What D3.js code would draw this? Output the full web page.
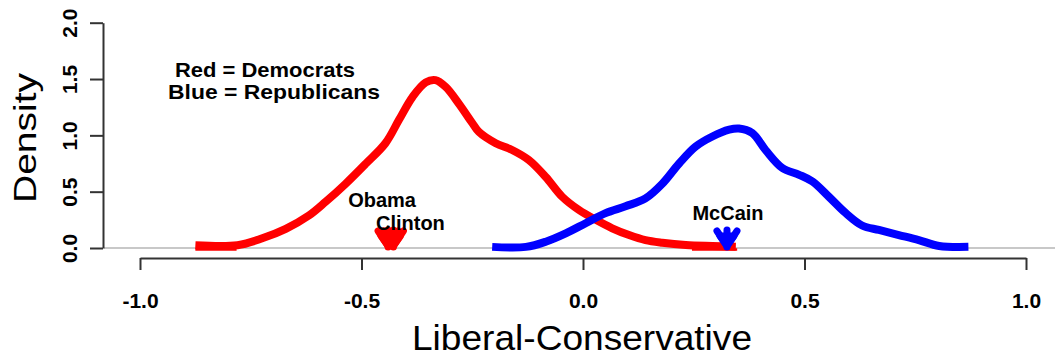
<!DOCTYPE html>
<html>
<head>
<meta charset="utf-8">
<script src="https://cdn.jsdelivr.net/npm/d3@7"></script>
<style>
  html, body { margin: 0; padding: 0; background: #fff; }
  svg { display: block; }
  text { font-family: "Liberation Sans", Arial, Helvetica, sans-serif; }
</style>
</head>
<body>
<svg id="chart" width="1055" height="360"></svg>
<script>
// ---- data ----
const xTicks = [-1.0, -0.5, 0.0, 0.5, 1.0];
const yTicks = [0.0, 0.5, 1.0, 1.5, 2.0];

const demX = [-0.875, -0.78, -0.724, -0.671, -0.618, -0.581, -0.536, -0.49, -0.446, -0.415, -0.385, -0.355, -0.333, -0.31, -0.28, -0.25, -0.235, -0.197, -0.16, -0.122, -0.084, -0.047, -0.009, 0.029, 0.066, 0.104, 0.141, 0.179, 0.232, 0.292, 0.345];
const demY = [0.025, 0.025, 0.086, 0.17, 0.29, 0.41, 0.57, 0.75, 0.93, 1.14, 1.34, 1.47, 1.49, 1.43, 1.28, 1.11, 1.03, 0.93, 0.87, 0.78, 0.63, 0.455, 0.337, 0.25, 0.175, 0.115, 0.07, 0.047, 0.027, 0.018, 0.012];

const repX = [-0.205, -0.129, -0.084, -0.039, 0.006, 0.051, 0.096, 0.141, 0.179, 0.217, 0.254, 0.292, 0.33, 0.352, 0.382, 0.412, 0.45, 0.488, 0.518, 0.555, 0.593, 0.63, 0.668, 0.713, 0.758, 0.804, 0.87];
const repY = [0.01, 0.01, 0.056, 0.13, 0.22, 0.31, 0.37, 0.44, 0.57, 0.75, 0.9, 0.99, 1.05, 1.06, 1.02, 0.87, 0.71, 0.65, 0.59, 0.455, 0.31, 0.2, 0.16, 0.115, 0.07, 0.018, 0.01];

// thin red tail segments (x ranges) drawn just under zero
const demTailStart = [-0.875, 0.246];
const demTailEnd   = [-0.782, 0.348];

const candNames = ["Obama", "Clinton", "McCain"];
const candPos   = [-0.440, -0.428, 0.325];
const candParty = ["D", "D", "R"];

const legendLines = ["Red = Democrats", "Blue = Republicans"];

// ---- layout ----
const svg = d3.select("#chart");
const x = d3.scaleLinear().domain([-1, 1]).range([140, 1026]);
const y = d3.scaleLinear().domain([0, 2]).range([248, 22.7]);
const partyColor = { D: "#ff0000", R: "#0000ff" };
const axisColor = "#333";

// zero reference line
svg.append("line")
  .attr("x1", 104).attr("x2", 1055)
  .attr("y1", y(0)).attr("y2", y(0))
  .attr("stroke", "#c8c8c8").attr("stroke-width", 2);

// x axis
const gx = svg.append("g").attr("transform", "translate(0,258)")
  .call(d3.axisBottom(x).tickValues(xTicks).tickSize(12).tickSizeOuter(0)
        .tickFormat(d3.format(".1f")));
gx.select(".domain").attr("stroke", axisColor).attr("stroke-width", 2);
gx.selectAll(".tick line").attr("stroke", axisColor).attr("stroke-width", 2);
gx.selectAll(".tick text")
  .attr("y", 50).attr("dy", null)
  .attr("fill", "#000")
  .style("font-size", "21px").style("font-weight", "bold")
  .text(d => d3.format(".1f")(d).replace("−", "-"));

// y axis
const gy = svg.append("g").attr("transform", "translate(103,0)")
  .call(d3.axisLeft(y).tickValues(yTicks).tickSize(13).tickSizeOuter(0)
        .tickFormat(d3.format(".1f")));
gy.select(".domain").attr("stroke", axisColor).attr("stroke-width", 2);
gy.selectAll(".tick line").attr("stroke", axisColor).attr("stroke-width", 2);
gy.selectAll(".tick text")
  .attr("x", null).attr("dy", null)
  .attr("transform", "translate(-26,0) rotate(-90)")
  .attr("text-anchor", "middle")
  .attr("fill", "#000")
  .style("font-size", "21px").style("font-weight", "bold");

// axis titles
svg.append("text")
  .attr("x", 582).attr("y", 350)
  .attr("text-anchor", "middle")
  .attr("textLength", 340).attr("lengthAdjust", "spacingAndGlyphs")
  .style("font-size", "35px")
  .text("Liberal-Conservative");

svg.append("text")
  .attr("transform", "translate(36,138) rotate(-90)")
  .attr("text-anchor", "middle")
  .attr("textLength", 130).attr("lengthAdjust", "spacingAndGlyphs")
  .style("font-size", "32px")
  .text("Density");

// curves
const line = d3.line().x(d => x(d[0])).y(d => y(d[1])).curve(d3.curveCatmullRom.alpha(0.5));
const dem = demX.map((v, i) => [v, demY[i]]);
const rep = repX.map((v, i) => [v, repY[i]]);

demTailStart.forEach((s, i) => {
  svg.append("line")
    .attr("x1", x(s)).attr("x2", x(demTailEnd[i]))
    .attr("y1", y(0) + 1.5).attr("y2", y(0) + 1.5)
    .attr("stroke", partyColor.D).attr("stroke-width", 2.5);
});

svg.append("path").datum(dem)
  .attr("d", line).attr("fill", "none")
  .attr("stroke", partyColor.D).attr("stroke-width", 8)
  .attr("stroke-linejoin", "round").attr("stroke-linecap", "butt");

svg.append("path").datum(rep)
  .attr("d", line).attr("fill", "none")
  .attr("stroke", partyColor.R).attr("stroke-width", 8)
  .attr("stroke-linejoin", "round").attr("stroke-linecap", "butt");

// candidate arrows
candPos.forEach((p, i) => {
  const cx = x(p), tip = y(0) + 1;
  const col = partyColor[candParty[i]];
  const g = svg.append("g").attr("stroke", col).attr("stroke-width", 7)
    .attr("fill", "none").attr("stroke-linecap", "round").attr("stroke-linejoin", "round");
  g.append("line").attr("x1", cx).attr("x2", cx).attr("y1", tip - 19).attr("y2", tip - 2);
  g.append("path").attr("d", `M${cx - 10},${tip - 18}L${cx},${tip - 3}L${cx + 10},${tip - 18}`);
  g.append("path").attr("d", `M${cx - 7},${tip - 13}L${cx + 7},${tip - 13}L${cx},${tip - 3}Z`)
    .attr("fill", col);
});

// candidate labels
const labelDx = [-6, 17, 1];
const labelDy = [-41, -18, -28];
candNames.forEach((n, i) => {
  svg.append("text")
    .attr("x", x(candPos[i]) + labelDx[i]).attr("y", y(0) + labelDy[i])
    .attr("text-anchor", "middle")
    .style("font-size", "20px").style("font-weight", "bold")
    .text(n);
});

// legend text
const legX = [265, 274], legY = [77, 99], legW = [180, 212];
legendLines.forEach((t, i) => {
  svg.append("text")
    .attr("x", legX[i]).attr("y", legY[i])
    .attr("text-anchor", "middle")
    .attr("textLength", legW[i]).attr("lengthAdjust", "spacingAndGlyphs")
    .style("font-size", "21px").style("font-weight", "bold")
    .text(t);
});
</script>
</body>
</html>
